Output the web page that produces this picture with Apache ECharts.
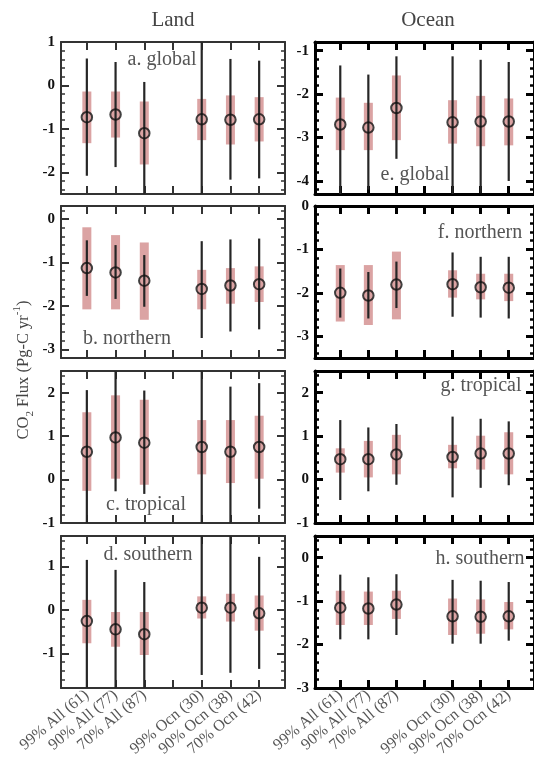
<!DOCTYPE html>
<html><head><meta charset="utf-8">
<script src="https://cdn.jsdelivr.net/npm/echarts@6/dist/echarts.min.js"></script>
<style>html,body{margin:0;padding:0;background:#fff}#c{width:534px;height:762px}</style>
</head><body><div id="c"></div>
<script>
// ---- categories ----
const categories = ['99% All (61)', '90% All (77)', '70% All (87)', '99% Ocn (30)', '90% Ocn (38)', '70% Ocn (42)'];
const catPos = [1, 2, 3, 5, 6, 7];
const xTickValues = [1, 2, 3, 4, 5, 6, 7];

// ---- a. Land global ----
const landGlobalRange = [-2.5, 1.0];
const landGlobalTicks = [-2, -1, 0, 1];
const landGlobalMean = [-0.73, -0.67, -1.10, -0.78, -0.79, -0.78];
const landGlobalBox = [[-1.33, -0.14], [-1.20, -0.14], [-1.82, -0.37], [-1.26, -0.31], [-1.36, -0.23], [-1.29, -0.27]];
const landGlobalWhisker = [[-2.08, 0.62], [-1.88, 0.54], [-2.5, 0.08], [-2.5, 1.0], [-2.17, 0.61], [-2.14, 0.57]];

// ---- b. Land northern ----
const landNorthRange = [-3.2, 0.3];
const landNorthTicks = [-3, -2, -1, 0];
const landNorthMean = [-1.13, -1.23, -1.42, -1.61, -1.53, -1.50];
const landNorthBox = [[-2.08, -0.19], [-2.08, -0.37], [-2.32, -0.54], [-2.08, -1.17], [-1.95, -1.13], [-1.91, -1.09]];
const landNorthWhisker = [[-1.77, -0.49], [-1.84, -0.60], [-2.02, -0.83], [-2.74, -0.51], [-2.59, -0.47], [-2.54, -0.45]];

// ---- c. Land tropical ----
const landTropRange = [-1.0, 2.5];
const landTropTicks = [-1, 0, 1, 2];
const landTropMean = [0.64, 0.97, 0.85, 0.75, 0.64, 0.75];
const landTropBox = [[-0.26, 1.55], [0.02, 1.94], [-0.12, 1.84], [0.12, 1.37], [-0.08, 1.37], [0.02, 1.47]];
const landTropWhisker = [[-1.0, 2.06], [-0.27, 2.5], [-0.33, 2.05], [-1.0, 2.5], [-1.0, 2.14], [-0.67, 2.22]];

// ---- d. Land southern ----
const landSouthRange = [-1.8, 1.7];
const landSouthTicks = [-1, 0, 1];
const landSouthMean = [-0.26, -0.45, -0.56, 0.05, 0.05, -0.08];
const landSouthBox = [[-0.77, 0.23], [-0.85, -0.05], [-1.04, -0.05], [-0.20, 0.31], [-0.27, 0.37], [-0.48, 0.33]];
const landSouthWhisker = [[-1.8, 1.15], [-1.8, 0.92], [-1.8, 0.64], [-1.50, 1.7], [-1.45, 1.7], [-1.36, 1.22]];

// ---- e. Ocean global ----
const oceanGlobalRange = [-4.3, -0.8];
const oceanGlobalTicks = [-4, -3, -2, -1];
const oceanGlobalMean = [-2.70, -2.77, -2.32, -2.65, -2.63, -2.63];
const oceanGlobalBox = [[-3.29, -2.08], [-3.29, -2.20], [-3.06, -1.57], [-3.14, -2.14], [-3.20, -2.04], [-3.18, -2.10]];
const oceanGlobalWhisker = [[-4.3, -1.34], [-4.2, -1.55], [-3.49, -1.13], [-4.3, -1.13], [-4.28, -1.21], [-4.0, -1.26]];

// ---- f. Ocean northern ----
const oceanNorthRange = [-3.5, 0.0];
const oceanNorthTicks = [-3, -2, -1, 0];
const oceanNorthMean = [-2.00, -2.06, -1.81, -1.80, -1.87, -1.88];
const oceanNorthBox = [[-2.66, -1.36], [-2.74, -1.36], [-2.61, -1.05], [-2.11, -1.48], [-2.15, -1.56], [-2.19, -1.56]];
const oceanNorthWhisker = [[-2.57, -1.44], [-2.59, -1.52], [-2.35, -1.28], [-2.55, -1.07], [-2.57, -1.17], [-2.59, -1.17]];

// ---- g. Ocean tropical ----
const oceanTropRange = [-1.0, 2.5];
const oceanTropTicks = [-1, 0, 1, 2];
const oceanTropMean = [0.47, 0.47, 0.58, 0.52, 0.60, 0.60];
const oceanTropBox = [[0.16, 0.72], [0.05, 0.89], [0.12, 1.03], [0.26, 0.80], [0.23, 1.01], [0.12, 1.09]];
const oceanTropWhisker = [[-0.47, 1.37], [-0.27, 1.20], [-0.12, 1.28], [-0.41, 1.45], [-0.19, 1.40], [-0.13, 1.34]];

// ---- h. Ocean southern ----
const oceanSouthRange = [-3.0, 0.5];
const oceanSouthTicks = [-3, -2, -1, 0];
const oceanSouthMean = [-1.15, -1.17, -1.08, -1.35, -1.36, -1.35];
const oceanSouthBox = [[-1.55, -0.76], [-1.55, -0.78], [-1.41, -0.76], [-1.78, -0.94], [-1.75, -0.96], [-1.65, -1.02]];
const oceanSouthWhisker = [[-1.88, -0.39], [-1.88, -0.45], [-1.78, -0.38], [-1.98, -0.51], [-1.98, -0.53], [-1.91, -0.56]];

// ---- layout / style ----
const FONT = 'Liberation Serif';
const PINK = '#dba3a3';
const LINE = '#262626';
const colLeft = [61, 315];
const panelW = 224;
const rowTop = [42, 206, 371, 536];
const panelH = 152;

const panels = [
  {label: 'a. global',   col: 0, row: 0, range: landGlobalRange, ticks: landGlobalTicks, mean: landGlobalMean, box: landGlobalBox, wh: landGlobalWhisker, lx: 162, ly: 60},
  {label: 'b. northern', col: 0, row: 1, range: landNorthRange,  ticks: landNorthTicks,  mean: landNorthMean,  box: landNorthBox,  wh: landNorthWhisker,  lx: 127, ly: 339},
  {label: 'c. tropical', col: 0, row: 2, range: landTropRange,   ticks: landTropTicks,   mean: landTropMean,   box: landTropBox,   wh: landTropWhisker,   lx: 146, ly: 505},
  {label: 'd. southern', col: 0, row: 3, range: landSouthRange,  ticks: landSouthTicks,  mean: landSouthMean,  box: landSouthBox,  wh: landSouthWhisker,  lx: 148, ly: 555},
  {label: 'e. global',   col: 1, row: 0, range: oceanGlobalRange, ticks: oceanGlobalTicks, mean: oceanGlobalMean, box: oceanGlobalBox, wh: oceanGlobalWhisker, lx: 415, ly: 175},
  {label: 'f. northern', col: 1, row: 1, range: oceanNorthRange,  ticks: oceanNorthTicks,  mean: oceanNorthMean,  box: oceanNorthBox,  wh: oceanNorthWhisker,  lx: 480, ly: 233},
  {label: 'g. tropical', col: 1, row: 2, range: oceanTropRange,   ticks: oceanTropTicks,   mean: oceanTropMean,   box: oceanTropBox,   wh: oceanTropWhisker,   lx: 481, ly: 386},
  {label: 'h. southern', col: 1, row: 3, range: oceanSouthRange,  ticks: oceanSouthTicks,  mean: oceanSouthMean,  box: oceanSouthBox,  wh: oceanSouthWhisker,  lx: 480, ly: 559}
];

function minorTicks(range) {
  const out = [];
  const start = Math.ceil(range[0] / 0.2 - 1e-6);
  const end = Math.floor(range[1] / 0.2 + 1e-6);
  for (let k = start; k <= end; k++) {
    const v = +(k * 0.2).toFixed(2);
    if (Math.abs(v - Math.round(v)) > 1e-6) out.push(v);
  }
  return out;
}

const grid = [], xAxis = [], yAxis = [], series = [], graphic = [];

panels.forEach((p, i) => {
  const ocean = p.col === 1;
  const bw = ocean ? 3 : 2;
  const bc = ocean ? '#000' : '#333';
  grid.push({left: colLeft[p.col], top: rowTop[p.row], width: panelW, height: panelH, containLabel: false});
  const showX = p.row === 3;
  const xBase = {
    type: 'value', gridIndex: i, min: 0.1, max: 7.9,
    splitLine: {show: false},
    axisLine: {show: true, onZero: false, lineStyle: {color: bc, width: bw}},
    axisTick: {show: true, inside: true, length: 8, customValues: xTickValues, lineStyle: {color: bc, width: bw}}
  };
  xAxis.push(Object.assign({}, xBase, {
    position: 'bottom',
    axisLabel: {
      show: showX, customValues: catPos, rotate: 40, margin: 5,
      fontFamily: FONT, fontSize: 16, color: '#555',
      formatter: v => categories[catPos.indexOf(Math.round(v))] || ''
    }
  }));
  xAxis.push(Object.assign({}, xBase, {position: 'top', axisLabel: {show: false}}));

  const minors = minorTicks(p.range);
  const yBase = {type: 'value', gridIndex: i, min: p.range[0], max: p.range[1], splitLine: {show: false}};
  yAxis.push(Object.assign({}, yBase, {
    position: 'left',
    axisLine: {show: true, onZero: false, lineStyle: {color: bc, width: bw}},
    axisTick: {show: true, inside: true, length: 8, customValues: p.ticks, lineStyle: {color: bc, width: bw}},
    axisLabel: {show: true, customValues: p.ticks, margin: 6, fontFamily: FONT, fontWeight: 'bold', fontSize: 15, color: '#111'}
  }));
  yAxis.push(Object.assign({}, yBase, {
    position: 'left',
    axisLine: {show: false},
    axisTick: {show: true, inside: true, length: 4, customValues: minors, lineStyle: {color: bc, width: bw - 0.5}},
    axisLabel: {show: false}
  }));
  yAxis.push(Object.assign({}, yBase, {
    position: 'right',
    axisLine: {show: true, onZero: false, lineStyle: {color: bc, width: bw}},
    axisTick: {show: true, inside: true, length: 8, customValues: p.ticks, lineStyle: {color: bc, width: bw}},
    axisLabel: {show: false}
  }));
  yAxis.push(Object.assign({}, yBase, {
    position: 'right',
    axisLine: {show: false},
    axisTick: {show: true, inside: true, length: 4, customValues: minors, lineStyle: {color: bc, width: bw - 0.5}},
    axisLabel: {show: false}
  }));

  const boxData = catPos.map((x, k) => [x, p.box[k][0], p.box[k][1]]);
  const whData = catPos.map((x, k) => [x, p.wh[k][0], p.wh[k][1]]);
  const meanData = catPos.map((x, k) => [x, p.mean[k]]);

  series.push({
    type: 'custom', xAxisIndex: 2 * i, yAxisIndex: 4 * i, clip: true, z: 2,
    encode: {x: 0, y: [1, 2]},
    data: boxData,
    renderItem: (params, api) => {
      const top = api.coord([api.value(0), api.value(2)]);
      const bot = api.coord([api.value(0), api.value(1)]);
      return {type: 'rect', shape: {x: top[0] - 4.5, y: top[1], width: 9, height: bot[1] - top[1]}, style: {fill: PINK}};
    }
  });
  series.push({
    type: 'custom', xAxisIndex: 2 * i, yAxisIndex: 4 * i, clip: true, z: 3,
    encode: {x: 0, y: [1, 2]},
    data: whData,
    renderItem: (params, api) => {
      const top = api.coord([api.value(0), api.value(2)]);
      const bot = api.coord([api.value(0), api.value(1)]);
      return {type: 'line', shape: {x1: top[0], y1: top[1], x2: bot[0], y2: bot[1]}, style: {stroke: LINE, lineWidth: 2.2}};
    }
  });
  series.push({
    type: 'scatter', xAxisIndex: 2 * i, yAxisIndex: 4 * i, z: 4,
    symbol: 'circle', symbolSize: 10.5,
    itemStyle: {color: 'rgba(0,0,0,0)', borderColor: '#111', borderWidth: 2},
    data: meanData
  });

  graphic.push({type: 'text', x: p.lx, y: p.ly, z: 10,
    style: {text: p.label, fontFamily: FONT, fontSize: 20, fill: '#555', align: 'center', verticalAlign: 'middle'}});
});

graphic.push({type: 'text', x: 173, y: 20, style: {text: 'Land', fontFamily: FONT, fontSize: 21, fill: '#444', align: 'center', verticalAlign: 'middle'}});
graphic.push({type: 'text', x: 428, y: 20, style: {text: 'Ocean', fontFamily: FONT, fontSize: 21, fill: '#444', align: 'center', verticalAlign: 'middle'}});
graphic.push({type: 'text', x: 24, y: 370, rotation: Math.PI / 2,
  style: {
    text: 'CO{sub|2} Flux (Pg-C yr{sup|-1})',
    fontFamily: FONT, fontSize: 16.5, fill: '#444', align: 'center', verticalAlign: 'middle',
    rich: {
      sub: {fontFamily: FONT, fontSize: 11, fill: '#444', verticalAlign: 'bottom', lineHeight: 24},
      sup: {fontFamily: FONT, fontSize: 11, fill: '#444', verticalAlign: 'top', lineHeight: 24}
    }
  }});

const chart = echarts.init(document.getElementById('c'), null, {renderer: 'canvas'});
chart.setOption({
  animation: false,
  backgroundColor: '#fff',
  grid, xAxis, yAxis, series, graphic
});
</script>
</body></html>
